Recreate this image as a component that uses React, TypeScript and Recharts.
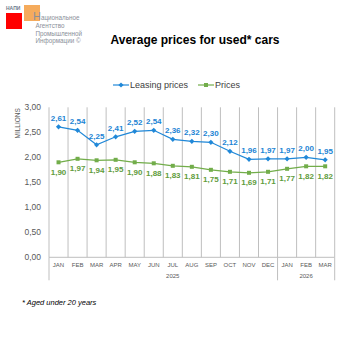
import React from 'react';
import { LineChart, Line, XAxis, YAxis, CartesianGrid, LabelList, Legend } from 'recharts';

const months = ['JAN', 'FEB', 'MAR', 'APR', 'MAY', 'JUN', 'JUL', 'AUG', 'SEP', 'OCT', 'NOV', 'DEC', 'JAN', 'FEB', 'MAR'];
const leasingPrices = [2.61, 2.54, 2.25, 2.41, 2.52, 2.54, 2.36, 2.32, 2.30, 2.12, 1.96, 1.97, 1.97, 2.00, 1.95];
const prices = [1.90, 1.97, 1.94, 1.95, 1.90, 1.88, 1.83, 1.81, 1.75, 1.71, 1.69, 1.71, 1.77, 1.82, 1.82];
const yearLabels: { [k: number]: string } = { 6: '2025', 13: '2026' };
const yearSeparators = [0, 12];
const yTicks = [0, 0.5, 1, 1.5, 2, 2.5, 3];

const PLOT_W = 285.7;
const HALF = PLOT_W / months.length / 2;

const BLUE = '#2088d8';
const GREEN = '#72ad4a';
const BLUE_TXT = '#1b84d4';
const GREEN_TXT = '#5f9c3c';
const GRID = '#bfbfbf';
const FONT = '"Liberation Sans", Arial, sans-serif';

const data = months.map((m, i) => ({ idx: i, month: m, leasing: leasingPrices[i], prices: prices[i] }));

const fmt = (v: any) => Number(v).toFixed(2).replace('.', ',');

const DiamondDot = (props: any) => {
  const { cx, cy } = props;
  if (cx == null || cy == null) return null;
  const r = 2.6;
  return <path d={`M${cx},${cy - r}L${cx + r},${cy}L${cx},${cy + r}L${cx - r},${cy}Z`} fill={BLUE} />;
};

const SquareDot = (props: any) => {
  const { cx, cy } = props;
  if (cx == null || cy == null) return null;
  return <rect x={cx - 2} y={cy - 2} width={4} height={4} fill={GREEN} />;
};

const MonthTick = (props: any) => {
  const { x, y, payload } = props;
  const index = payload ? Number(payload.value) : 0;
  const axisY = y - 8;
  const elems: any[] = [];
  elems.push(
    <text key="m" x={x} y={axisY + 10} textAnchor="middle" fontSize={6} fill="#595959" fontFamily={FONT}>
      {months[index]}
    </text>
  );
  if (yearLabels[index]) {
    elems.push(
      <text key="y" x={x} y={axisY + 21} textAnchor="middle" fontSize={6} fill="#595959" fontFamily={FONT}>
        {yearLabels[index]}
      </text>
    );
  }
  if (yearSeparators.includes(index)) {
    elems.push(<line key="s" x1={x - HALF} x2={x - HALF} y1={axisY} y2={axisY + 23} stroke={GRID} strokeWidth={1} />);
  }
  if (index === months.length - 1) {
    elems.push(<line key="e" x1={x + HALF} x2={x + HALF} y1={axisY} y2={axisY + 23} stroke={GRID} strokeWidth={1} />);
  }
  return <g>{elems}</g>;
};

const LegendContent = () => (
  <div style={{ display: 'flex', justifyContent: 'center', alignItems: 'center', fontFamily: FONT, fontSize: 9, color: '#404040', height: 14 }}>
    <svg width={16} height={8} style={{ marginRight: 1 }}>
      <line x1={0} x2={16} y1={4} y2={4} stroke={BLUE} strokeWidth={1.2} />
      <path d="M8,1.4L10.6,4L8,6.6L5.4,4Z" fill={BLUE} />
    </svg>
    <span style={{ marginRight: 10 }}>Leasing prices</span>
    <svg width={16} height={8} style={{ marginRight: 1 }}>
      <line x1={0} x2={16} y1={4} y2={4} stroke={GREEN} strokeWidth={1.2} />
      <rect x={6} y={2} width={4} height={4} fill={GREEN} />
    </svg>
    <span>Prices</span>
  </div>
);

const gridGen = (props: any) => {
  const o = props && props.offset ? props.offset : { left: 49, width: PLOT_W };
  const out: number[] = [];
  for (let i = 0; i <= months.length; i++) out.push(o.left + (i * o.width) / months.length);
  return out;
};

export default function App() {
  return (
    <div style={{ position: 'absolute', left: 0, top: 0, width: 353, height: 353, background: '#fff', fontFamily: FONT }}>
      <svg width={120} height={50} style={{ position: 'absolute', left: 0, top: 0 }}>
        <text x={6} y={10} fontSize={5} fill="#6d7b8c" fontFamily={FONT} fontWeight="bold">НАПИ</text>
        <rect x={6} y={13} width={16} height={16} fill="#ff0000" />
        <rect x={24} y={5} width={16} height={16} fill="#f4a24a" opacity={0.9} />
        <text x={33} y={19.5} fill="#8a8f99" fontFamily={FONT}>
          <tspan fontSize={11}>Н</tspan>
          <tspan fontSize={6.3}>ациональное</tspan>
        </text>
        <text x={35.5} y={28} fontSize={6.3} fill="#8a8f99" fontFamily={FONT}>Агентство</text>
        <text x={35.5} y={35.5} fontSize={6.3} fill="#8a8f99" fontFamily={FONT}>Промышленной</text>
        <text x={35.5} y={43} fontSize={6.3} fill="#8a8f99" fontFamily={FONT}>Информации ©</text>
      </svg>
      <div style={{ position: 'absolute', left: 0, width: 390, top: 33, textAlign: 'center', fontSize: 12, fontWeight: 'bold', color: '#000', fontFamily: FONT }}>
        Average prices for used* cars
      </div>
      <LineChart width={353} height={353} data={data} margin={{ top: 93.3, right: 18.3, bottom: 65.7, left: 9 }}>
        <CartesianGrid horizontal={false} vertical={true} stroke={GRID} verticalCoordinatesGenerator={gridGen} />
        <XAxis
          dataKey="idx"
          type="category"
          interval={0}
          padding={{ left: HALF, right: HALF }}
          axisLine={{ stroke: GRID }}
          tickLine={false}
          height={30}
          tick={<MonthTick />}
        />
        <YAxis
          domain={[0, 3]}
          ticks={yTicks}
          width={40}
          axisLine={false}
          tickLine={false}
          tickFormatter={fmt}
          tick={{ fontSize: 8.5, fill: '#595959', fontFamily: FONT }}
          label={{
            content: (p: any) => {
              const vb = p.viewBox || { x: 9, y: 107 };
              const cx = vb.x + 11;
              const cy = vb.y + 16;
              return (
                <text x={cx} y={cy} transform={`rotate(-90 ${cx} ${cy})`} textAnchor="middle" fontSize={6.5} fill="#595959" fontFamily={FONT}>
                  MILLIONS
                </text>
              );
            },
          }}
        />
        <Legend verticalAlign="top" content={<LegendContent />} wrapperStyle={{ top: 78, left: 0, width: 353, height: 14 }} />
        <Line
          dataKey="leasing"
          name="Leasing prices"
          stroke={BLUE}
          strokeWidth={1.2}
          dot={<DiamondDot />}
          activeDot={false}
          isAnimationActive={false}
        >
          <LabelList dataKey="leasing" position="top" offset={6} formatter={fmt} fill={BLUE_TXT} fontSize={8} fontWeight="bold" fontFamily={FONT} />
        </Line>
        <Line
          dataKey="prices"
          name="Prices"
          stroke={GREEN}
          strokeWidth={1.2}
          dot={<SquareDot />}
          activeDot={false}
          isAnimationActive={false}
        >
          <LabelList dataKey="prices" position="bottom" offset={7} formatter={fmt} fill={GREEN_TXT} fontSize={8} fontWeight="bold" fontFamily={FONT} />
        </Line>
      </LineChart>
      <div style={{ position: 'absolute', left: 22, top: 298, fontSize: 7.5, fontStyle: 'italic', color: '#000', fontFamily: FONT }}>
        * Aged under 20 years
      </div>
    </div>
  );
}
